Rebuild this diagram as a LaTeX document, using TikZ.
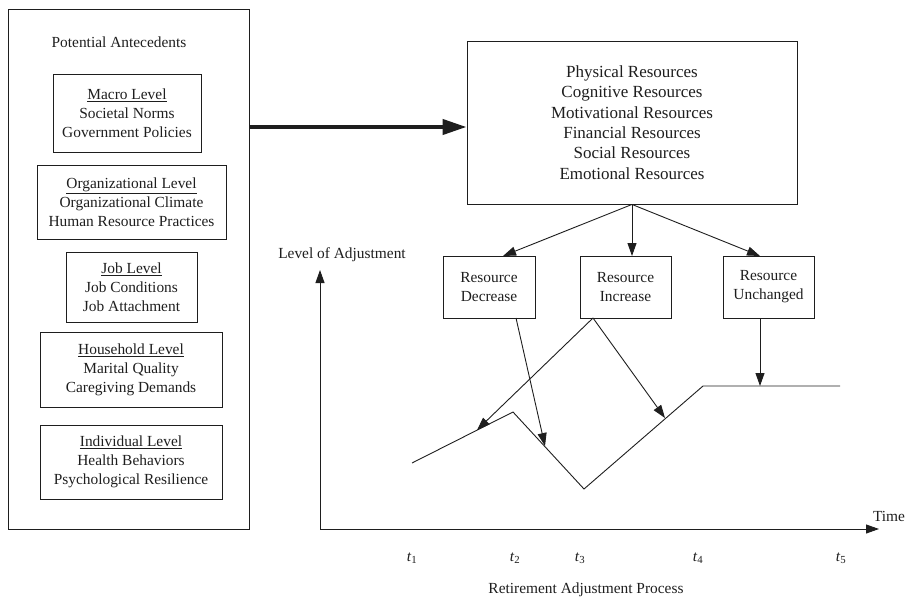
\documentclass[tikz,border=0pt]{standalone}
\usepackage{fontspec}
\setmainfont{Liberation Serif}
\usetikzlibrary{arrows.meta}
\definecolor{ink}{RGB}{30,30,30}
\begin{document}
\begin{tikzpicture}[x=1pt,y=-1pt,
  every node/.style={text=ink},
  txt/.style={font=\fontsize{15.4}{19}\selectfont, align=center, inner sep=0pt},
  box/.style={txt, draw=ink, line width=0.9pt},
  bigbox/.style={font=\fontsize{17}{20.4}\selectfont, align=center, inner sep=0pt, draw=ink, line width=0.9pt},
  arr/.style={draw=ink, line width=0.9pt, -{Triangle[length=13pt,width=9pt]}},
  thickarr/.style={draw=ink, line width=4pt, -{Triangle[length=24pt,width=15pt]}},
  ln/.style={draw=ink, line width=0.9pt, line join=miter}]
\useasboundingbox (0,0) rectangle (907,599);

% left panel
\node[box, minimum width=241pt, minimum height=520pt] (outer) at (128.5,269) {};
\node[txt] (pa) at (119,42) {Potential Antecedents};
\node[box, minimum width=148pt, minimum height=78pt] (macro) at (127,113) {\underline{Macro Level}\\Societal Norms\\Government Policies};
\node[box, minimum width=189pt, minimum height=74pt] (org) at (131.5,202) {\underline{Organizational Level}\\Organizational Climate\\Human Resource Practices};
\node[box, minimum width=131pt, minimum height=70pt] (job) at (131.5,287) {\underline{Job Level}\\Job Conditions\\Job Attachment};
\node[box, minimum width=182pt, minimum height=75pt] (house) at (131,369.5) {\underline{Household Level}\\Marital Quality\\Caregiving Demands};
\node[box, minimum width=182pt, minimum height=74pt] (indiv) at (131,462) {\underline{Individual Level}\\Health Behaviors\\Psychological Resilience};

% resources
\node[bigbox, minimum width=330pt, minimum height=163pt] (res) at (632,122.5) {Physical Resources\\Cognitive Resources\\Motivational Resources\\Financial Resources\\Social Resources\\Emotional Resources};

\coordinate (arrY) at (0,127);
\draw[thickarr] (outer.east |- arrY) -- (res.west |- arrY);

% change boxes
\node[box, minimum width=92pt, minimum height=62pt] (dec) at (489,287) {Resource\\Decrease};
\node[box, minimum width=91pt, minimum height=62pt] (inc) at (625.5,287) {Resource\\Increase};
\node[box, minimum width=91pt, minimum height=62pt] (unc) at (768.5,287) {Resource\\Unchanged};

\coordinate (decIn) at (503,256);
\coordinate (incIn) at (632,256);
\coordinate (uncIn) at (760,256);
\draw[arr] (res.south) -- (decIn);
\draw[arr] (res.south) -- (incIn);
\draw[arr] (res.south) -- (uncIn);

% axes
\coordinate (O) at (320,529);
\coordinate (ytop) at (320,270);
\coordinate (xend) at (879,529);
\draw[arr] (O) -- (ytop);
\draw[arr] (O) -- (xend);
\node[txt] (yl) at (342,255) {Level of Adjustment};
\node[txt] (xl) at (889,516) {Time};

% adjustment curve
\coordinate (c0) at (412,463);
\coordinate (c1) at (513,412);
\coordinate (c2) at (584,489);
\coordinate (c3) at (703,386);
\coordinate (c4) at (840,386);
\draw[ln] (c0) -- (c1) -- (c2) -- (c3) -- (c4);

% arrows to curve
\coordinate (decOut) at (516,318);
\coordinate (incOut) at (593,318);
\coordinate (uncOut) at (760,318);
\coordinate (p1) at (545,446);
\coordinate (p2) at (477,430);
\coordinate (p3) at (665,418);
\coordinate (p4) at (760,386);
\draw[arr] (decOut) -- (p1);
\draw[arr] (incOut) -- (p2);
\draw[arr] (incOut) -- (p3);
\draw[arr] (uncOut) -- (p4);

% time labels
\node[txt] (t1) at (412,558) {\textit{t}\textsubscript{1}};
\node[txt] (t2) at (515,558) {\textit{t}\textsubscript{2}};
\node[txt] (t3) at (580,558) {\textit{t}\textsubscript{3}};
\node[txt] (t4) at (698,558) {\textit{t}\textsubscript{4}};
\node[txt] (t5) at (841,558) {\textit{t}\textsubscript{5}};
\node[txt] (rap) at (586,590) {Retirement Adjustment Process};
\end{tikzpicture}
\end{document}
